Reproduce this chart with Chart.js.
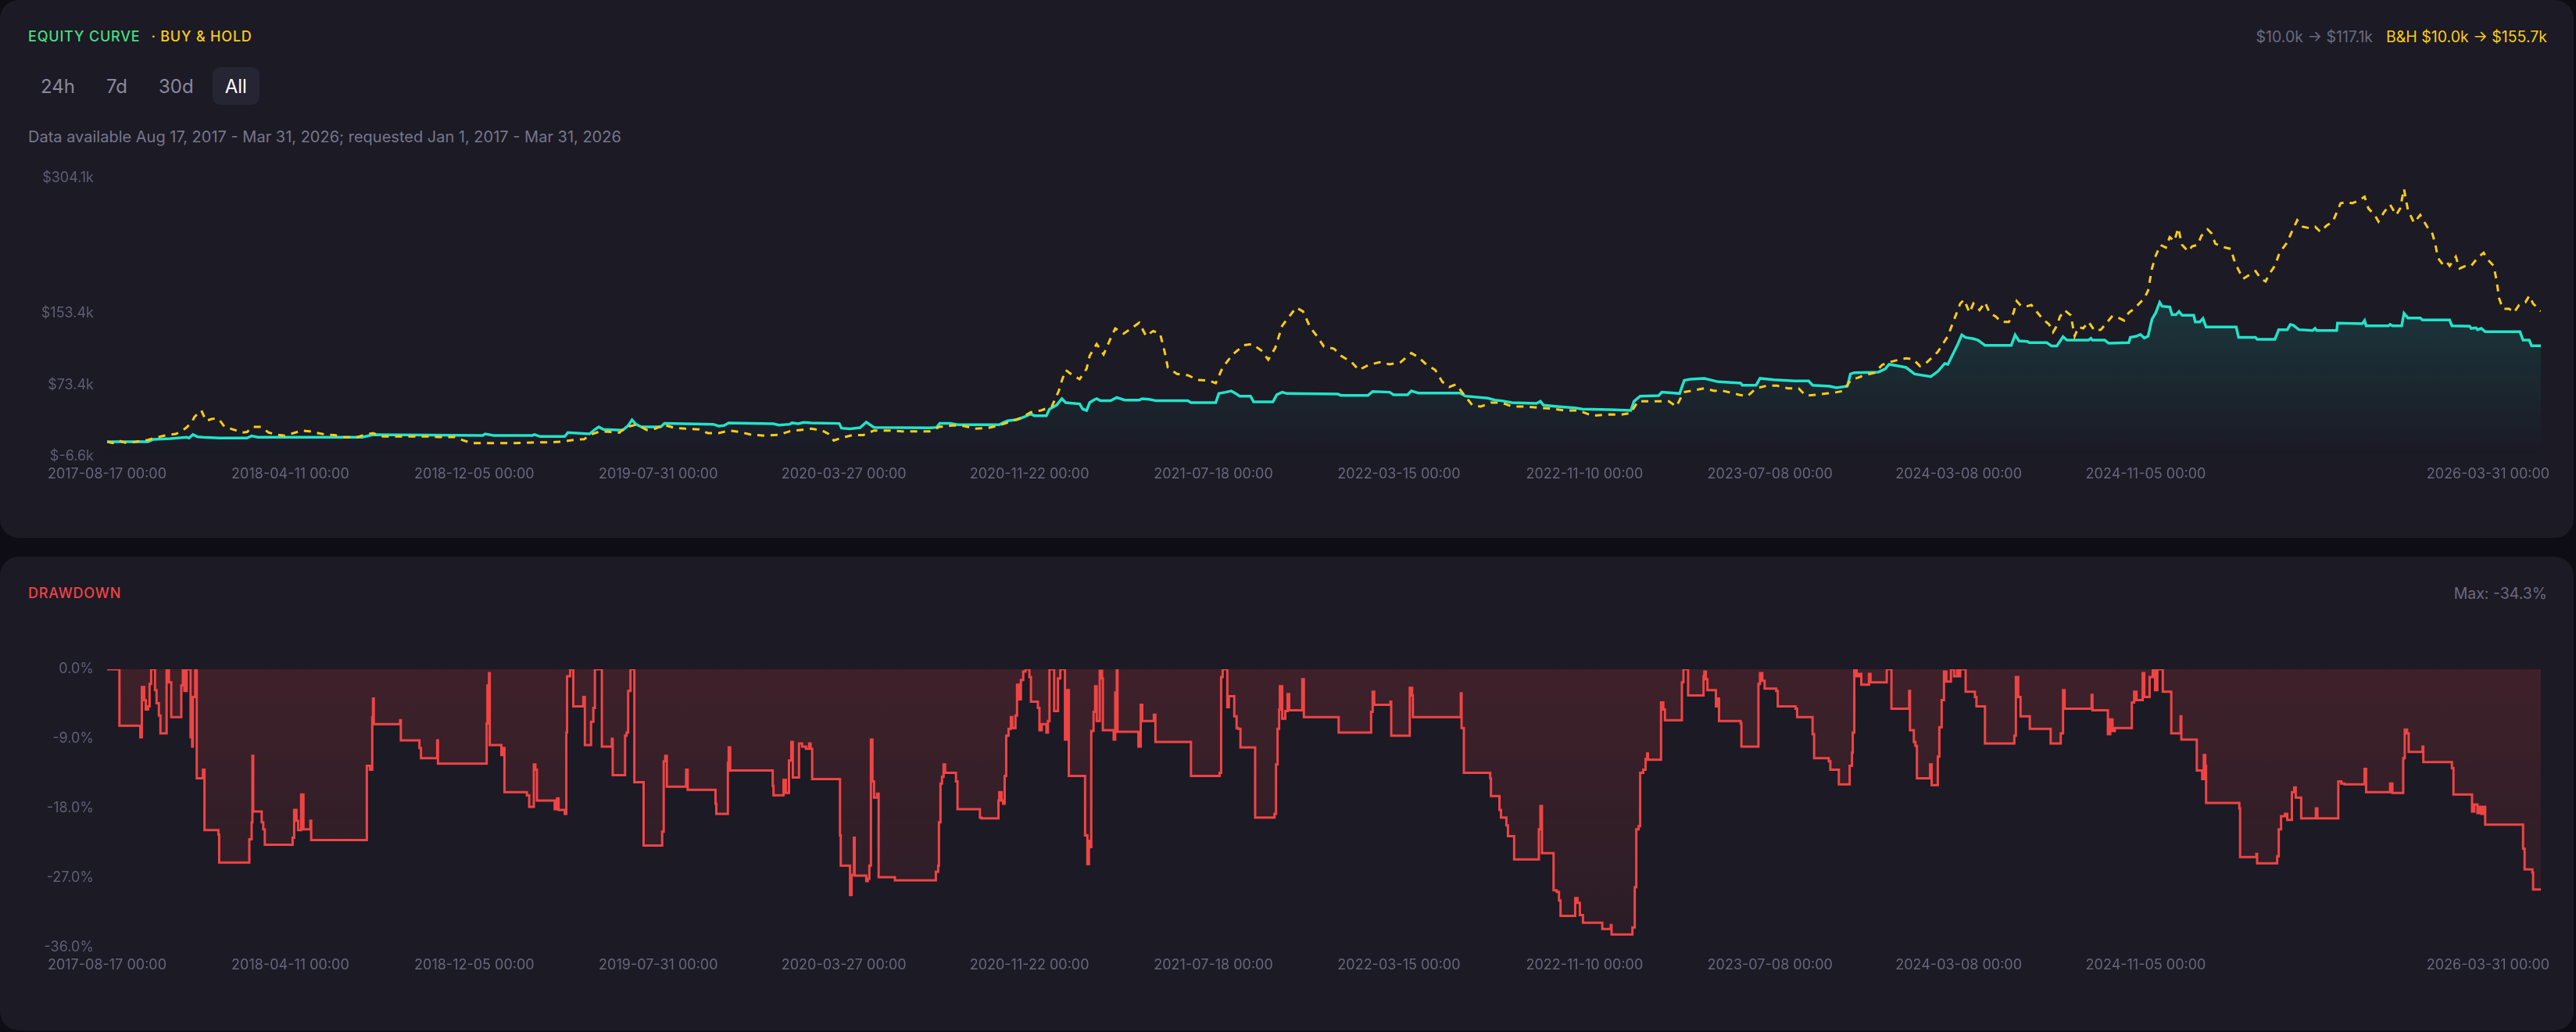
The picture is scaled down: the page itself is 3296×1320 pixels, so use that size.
<!DOCTYPE html>
<html><head><meta charset="utf-8">
<script src="https://cdn.jsdelivr.net/npm/chart.js@4.4.1/dist/chart.umd.min.js"></script>
<style>
html,body{margin:0;padding:0;background:#0e0d16;width:3296px;height:1320px;overflow:hidden;font-family:Inter,"Noto Sans",sans-serif;}
.card{position:absolute;left:0;width:3293px;background:#1b1a25;border-radius:24px;}
#c1{top:0;height:688px;}
#c2{top:712px;height:606px;}
.abs{position:absolute;white-space:nowrap;line-height:1;}
.title{font-size:18px;letter-spacing:0.8px;font-weight:500;top:38px;left:36px;}
.hdr{font-size:19.5px;top:38px;right:34px;}
#tabs{position:absolute;left:36px;top:86px;display:flex;gap:8px;}
.tab{height:48px;padding:0 16px;display:flex;align-items:center;font-size:24px;color:#8a899e;border-radius:9px;}
.tab.on{background:#262533;color:#ffffff;}
#info{font-size:20px;color:#77768b;left:36px;top:165px;}
canvas{position:absolute;left:36px;}
</style></head>
<body>
<div class="card" id="c1">
  <div class="abs title"><span style="color:#4ade80">EQUITY CURVE</span><span style="color:#facc15;margin-left:14px">· BUY &amp; HOLD</span></div>
  <div class="abs hdr"><span style="color:#6b6a80">$10.0k → $117.1k</span><span style="color:#facc15;margin-left:17px">B&amp;H $10.0k → $155.7k</span></div>
  <div id="tabs"><div class="tab">24h</div><div class="tab">7d</div><div class="tab">30d</div><div class="tab on">All</div></div>
  <div class="abs" id="info">Data available Aug 17, 2017 - Mar 31, 2026; requested Jan 1, 2017 - Mar 31, 2026</div>
</div>
<div class="card" id="c2">
  <div class="abs title" style="color:#ef4444">DRAWDOWN</div>
  <div class="abs hdr" style="color:#6b6a80">Max: -34.3%</div>
</div>
<canvas id="eq" width="3226" height="440" style="top:200px"></canvas>
<canvas id="dd" width="3226" height="440" style="top:828px"></canvas>
<script>
// ---- data (x = days since 2017-08-17) ----
const START_DATE = '2017-08-17';
const tickDates = ['2017-08-17','2018-04-11','2018-12-05','2019-07-31','2020-03-27','2020-11-22','2021-07-18','2022-03-15','2022-11-10','2023-07-08','2024-03-08','2024-11-05','2026-03-31'];
const equityTicks = [-6.6, 73.4, 153.4, 304.1];
const drawdownTicks = [0, -9, -18, -27, -36];

const eqDay = [0,53,60,82,103,106,111,117,124,145,181,187,195,252,330,344,486,489,500,550,553,560,592,596,624,631,636,642,667,674,679,684,691,716,721,784,791,798,804,862,869,883,886,894,901,911,947,950,961,974,982,992,1064,1073,1077,1091,1100,1154,1159,1165,1177,1186,1195,1199,1215,1219,1228,1235,1240,1258,1262,1267,1271,1276,1280,1285,1298,1306,1316,1335,1339,1348,1357,1398,1402,1434,1438,1447,1454,1461,1465,1479,1483,1508,1513,1520,1526,1592,1596,1631,1637,1659,1664,1682,1687,1696,1750,1757,1786,1795,1804,1817,1849,1854,1858,1876,1899,1908,1944,1971,1975,1983,2007,2011,2034,2040,2048,2066,2084,2113,2115,2133,2138,2156,2183,2201,2206,2228,2237,2251,2255,2260,2291,2300,2305,2327,2338,2359,2368,2377,2381,2389,2394,2399,2404,2414,2420,2429,2463,2468,2473,2484,2486,2509,2515,2522,2530,2535,2563,2566,2568,2584,2589,2615,2617,2625,2630,2635,2640,2645,2650,2655,2658,2668,2671,2676,2680,2684,2699,2701,2707,2711,2715,2754,2757,2779,2781,2804,2809,2820,2824,2828,2835,2853,2856,2858,2884,2885,2917,2920,2922,2951,2953,2956,2968,2971,2976,2992,2995,3030,3033,3056,3058,3064,3066,3071,3076,3121,3125,3133,3136,3148];
const eqVal = [10.0,10.0,12.6,13.5,15.0,14.1,17.9,15.5,15.0,14.1,14.1,16.4,15.0,15.0,15.0,17.9,17.0,18.7,17.0,17.0,17.9,15.8,15.8,20.2,18.7,23.7,26.6,23.7,22.8,28.0,34.4,29.5,26.6,26.6,30.4,29.5,27.5,28.0,31.0,30.1,28.6,29.5,31.0,30.1,31.5,31.0,30.4,25.1,24.3,25.7,31.8,26.0,25.4,26.0,30.4,30.4,28.9,28.9,31.2,33.3,34.7,37.6,41.1,39.1,39.1,46.4,50.7,58.0,53.6,52.2,46.4,44.9,53.6,56.5,58.0,55.7,55.7,59.4,56.5,56.5,58.0,57.4,55.7,55.7,53.6,53.6,63.8,65.3,66.7,63.2,60.9,60.9,54.5,54.5,62.4,65.3,63.8,63.2,61.8,61.8,66.1,65.3,62.4,62.4,66.7,64.4,64.4,60.9,58.6,56.5,55.7,53.6,52.7,55.1,50.7,49.3,47.8,46.4,45.8,44.9,55.1,60.9,61.5,65.3,63.8,78.4,79.8,80.7,76.9,75.4,73.1,73.1,80.7,79.2,77.8,77.8,73.1,71.9,70.2,71.9,85.6,87.1,87.7,91.4,96.4,92.9,85.6,82.7,88.5,97.3,96.4,110.3,119.1,129.3,126.4,124.9,123.4,117.6,117.6,129.3,122.6,122.0,120.5,120.5,117.0,117.0,127.2,123.4,123.4,125.5,123.4,123.4,119.9,120.5,126.4,127.8,129.8,125.8,127.8,146.7,154.0,165.6,161.3,160.4,151.7,151.7,155.4,151.1,151.1,143.8,143.8,147.6,138.0,138.0,126.4,126.4,124.3,124.3,135.1,135.1,140.9,140.0,135.1,134.2,136.5,134.2,134.2,142.4,141.8,145.3,139.4,139.4,140.9,139.4,139.4,153.4,148.2,148.2,145.9,145.9,139.4,138.9,136.5,137.1,135.1,136.5,132.8,132.8,123.4,123.4,117.1,117.1];

const bhDay = [0,7,14,25,32,43,53,64,74,82,89,96,103,110,113,117,122,128,135,142,145,152,160,167,174,181,188,199,209,220,230,241,252,262,273,284,294,308,323,333,344,355,372,394,415,429,450,461,472,486,507,528,550,571,589,603,617,628,638,652,663,670,677,684,691,698,709,720,734,748,766,777,791,805,819,833,851,869,883,897,911,925,933,940,950,964,978,992,1010,1028,1046,1064,1077,1095,1109,1122,1140,1154,1168,1181,1195,1208,1222,1231,1235,1240,1249,1258,1267,1271,1280,1289,1297,1304,1315,1326,1335,1344,1353,1362,1368,1372,1384,1398,1411,1425,1434,1443,1456,1470,1481,1493,1502,1511,1520,1529,1538,1547,1556,1565,1574,1587,1596,1610,1619,1632,1646,1659,1673,1687,1696,1705,1718,1727,1736,1745,1754,1766,1777,1790,1804,1817,1835,1854,1867,1885,1903,1921,1944,1957,1971,1980,1993,2007,2020,2030,2039,2052,2066,2079,2088,2102,2111,2122,2133,2147,2160,2174,2188,2197,2210,2224,2237,2246,2255,2264,2273,2287,2296,2305,2318,2327,2336,2345,2354,2368,2381,2388,2397,2402,2409,2414,2422,2429,2435,2443,2450,2460,2466,2470,2476,2484,2489,2497,2504,2512,2517,2522,2526,2532,2540,2545,2550,2556,2563,2571,2579,2586,2594,2602,2609,2615,2622,2630,2635,2640,2645,2650,2656,2663,2668,2674,2679,2684,2692,2697,2704,2709,2717,2722,2727,2734,2740,2747,2751,2756,2763,2771,2779,2786,2792,2797,2804,2810,2815,2820,2825,2833,2840,2848,2856,2863,2871,2879,2884,2889,2897,2904,2912,2920,2925,2933,2938,2945,2953,2961,2966,2971,2976,2984,2992,2997,3002,3007,3011,3015,3020,3025,3030,3038,3043,3051,3058,3066,3074,3079,3087,3091,3094,3099,3107,3113,3120,3128,3133,3138,3148];
const bhVal = [10.0,8.5,11.4,8.5,9.1,10.9,12.0,14.9,16.7,17.8,18.7,21.6,26.0,32.4,37.6,41.1,44.9,33.3,35.3,36.2,34.7,26.6,24.5,22.5,20.2,20.8,26.6,26.6,20.2,17.8,16.7,19.6,22.5,21.6,19.6,17.8,17.3,14.9,14.9,17.8,19.6,15.8,15.8,15.8,15.8,15.2,15.2,11.4,8.5,8.5,8.5,8.5,9.1,9.4,10.0,12.0,12.9,18.7,21.6,20.8,20.2,26.0,27.4,28.9,26.6,23.1,24.5,28.9,25.4,24.5,23.7,19.6,19.6,22.5,20.8,17.8,16.7,17.8,21.6,23.1,24.5,22.5,18.7,11.4,14.3,17.3,17.3,22.5,22.5,21.6,21.6,21.6,26.6,28.3,27.4,24.5,25.4,28.3,32.4,36.2,42.9,44.9,49.3,66.7,78.4,90.0,84.2,79.8,91.5,106.0,119.1,107.4,123.4,136.5,130.7,137.1,142.9,127.8,133.6,130.7,110.3,92.9,85.6,84.2,78.9,78.4,75.4,92.9,107.4,117.6,119.1,111.8,101.6,114.7,139.4,149.6,159.8,155.4,138.0,127.8,116.2,113.8,106.0,98.7,90.0,95.8,98.7,96.4,98.7,108.9,104.5,97.3,90.0,76.9,71.1,74.0,63.8,50.7,49.3,53.6,53.6,49.3,49.3,47.8,47.0,44.9,44.9,39.1,40.5,40.0,42.0,55.1,55.1,55.1,55.1,49.3,65.3,67.3,69.6,66.7,67.3,64.4,62.4,60.9,69.6,72.5,72.5,69.6,69.6,61.5,62.4,63.8,65.3,66.7,78.4,81.3,84.2,87.1,95.8,98.7,101.6,103.1,102.2,94.3,98.7,110.3,127.8,143.8,164.2,168.5,154.0,164.2,156.9,165.6,154.0,149.6,143.8,143.8,154.0,167.1,161.3,161.3,162.7,154.0,146.7,140.9,132.2,139.4,149.6,156.9,151.1,127.8,138.0,136.5,143.8,133.6,135.1,142.4,150.5,148.2,145.3,154.0,158.4,165.6,170.0,178.7,203.4,218.0,229.6,226.7,238.4,234.0,248.5,229.6,222.4,228.2,229.6,239.8,247.1,242.7,231.1,228.2,226.7,225.3,213.6,203.4,191.8,196.2,200.5,191.8,188.9,197.6,206.3,220.9,226.7,232.5,242.7,257.3,250.0,248.5,250.0,244.2,251.4,255.8,266.0,276.2,277.6,276.2,279.1,283.5,270.4,263.1,255.8,266.0,274.7,263.1,270.4,292.2,268.9,254.4,263.1,255.8,248.5,244.2,232.5,215.1,209.3,212.2,206.3,216.5,203.4,206.3,206.3,215.1,220.9,213.6,206.3,188.9,170.0,158.4,158.4,154.0,162.7,165.6,172.9,164.2,155.7];

const ddDay = [0,16,43,45,48,50,53,55,57,62,64,67,69,77,80,83,96,98,100,103,108,110,111,114,116,124,126,144,145,184,187,188,189,200,202,204,240,242,245,247,251,254,263,264,336,340,343,344,345,379,380,404,406,427,428,491,492,494,495,510,512,514,543,546,552,554,556,579,582,584,592,594,595,599,603,616,618,626,629,631,640,653,654,670,672,674,677,682,694,718,720,722,724,749,751,787,788,803,804,806,861,862,875,878,882,885,887,895,899,904,908,910,912,948,949,961,963,966,967,982,984,986,988,990,992,996,998,1019,1072,1075,1076,1078,1080,1082,1084,1098,1100,1129,1131,1153,1154,1157,1159,1161,1163,1166,1169,1171,1175,1177,1180,1182,1185,1188,1193,1195,1204,1206,1209,1215,1217,1219,1225,1230,1233,1239,1241,1244,1265,1268,1270,1272,1273,1276,1278,1280,1284,1287,1288,1302,1304,1306,1307,1334,1337,1339,1354,1356,1402,1439,1441,1443,1449,1451,1458,1461,1463,1466,1485,1510,1512,1514,1516,1517,1520,1524,1527,1529,1546,1548,1593,1635,1637,1639,1660,1661,1685,1688,1689,1751,1752,1755,1789,1790,1801,1803,1810,1812,1820,1852,1854,1856,1871,1875,1878,1880,1899,1902,1905,1909,1934,1945,1946,1973,1976,1978,1981,1983,1987,1990,1992,1993,2010,2013,2015,2037,2039,2045,2065,2066,2068,2070,2081,2083,2085,2113,2114,2136,2138,2141,2144,2159,2161,2184,2186,2206,2208,2227,2229,2240,2254,2257,2258,2260,2263,2266,2269,2279,2281,2302,2308,2331,2332,2337,2339,2341,2358,2360,2368,2370,2373,2376,2379,2385,2389,2393,2394,2397,2404,2416,2418,2429,2467,2469,2472,2475,2487,2514,2527,2530,2532,2567,2568,2588,2591,2594,2597,2619,2622,2625,2633,2635,2642,2646,2649,2652,2659,2670,2682,2683,2703,2710,2712,2714,2715,2758,2759,2780,2781,2807,2809,2812,2817,2820,2826,2829,2831,2838,2857,2859,2886,2890,2894,2920,2922,2953,2956,2970,2972,2975,2977,2995,2996,3033,3035,3059,3062,3066,3068,3071,3073,3076,3125,3127,3137,3138,3148];
const ddVal = [0,-7.3,-8.8,-2.3,-4.0,-5.2,-4.8,-1.9,0,-2.7,-4.4,-6.0,-8.3,0,-1.7,-6.2,-2.1,0,-2.8,0,-8.8,-10.0,-3.6,0,-14.1,-13.0,-20.8,-21.4,-25.0,-22.0,-19.8,-11.2,-18.4,-19.8,-20.7,-22.7,-21.8,-18.2,-19.6,-20.8,-16.2,-20.7,-19.6,-22.1,-12.5,-13.0,-6.2,-3.8,-7.1,-6.6,-9.2,-10.2,-11.5,-9.2,-12.2,-7.0,-2.1,-0.5,-9.8,-11.1,-10.2,-15.9,-16.3,-17.8,-12.3,-13.0,-17.0,-18.1,-16.7,-18.2,-18.7,-8.2,-0.9,0,-4.8,-3.6,-9.8,-6.8,-5.0,0,-10.0,-9.0,-13.7,-8.6,-8.2,-2.8,0,-14.6,-22.8,-21.0,-11.9,-11.2,-15.2,-13.0,-15.6,-17.4,-18.7,-12.1,-10.1,-13.1,-15.1,-16.3,-14.3,-16.0,-11.8,-9.4,-14.0,-9.6,-10.0,-10.3,-9.6,-10.3,-14.2,-21.5,-25.4,-29.2,-26.6,-21.8,-26.7,-27.4,-27.1,-25.4,-9.1,-14.5,-16.6,-16.1,-26.9,-27.3,-26.2,-25.4,-19.8,-14.8,-13.9,-12.3,-13.4,-14.5,-18.1,-19.2,-19.3,-17.0,-15.9,-17.0,-17.4,-13.8,-8.6,-7.7,-6.2,-7.6,-6.0,-2.0,-3.9,-1.4,-0.3,0,-1.0,-4.2,-5.0,-7.9,-7.1,-8.2,-6.7,0,-5.4,-1.2,0,-9.1,-2.7,-13.8,-21.5,-25.2,-22.2,-23.0,-8.0,-5.5,-2.2,-6.7,-0.2,-1.2,-7.9,-9.1,-3.0,0,-8.1,-10.0,-4.6,-6.7,-5.9,-9.4,-13.8,-13.4,-1.0,0,-4.9,-3.5,-6.1,-7.6,-7.7,-10.1,-19.2,-18.7,-12.3,-7.7,-5.2,-2.2,-6.4,-5.4,-3.2,-5.3,-1.3,-6.2,-8.2,-5.5,-2.9,-4.6,-4.2,-8.6,-2.4,-3.4,-6.2,-3.1,-7.6,-13.4,-14.1,-16.4,-18.2,-19.2,-20.2,-21.6,-24.6,-20.7,-17.7,-23.8,-28.6,-28.8,-29.9,-31.9,-29.6,-30.2,-31.8,-32.8,-33.6,-33.1,-34.3,-33.4,-28.2,-20.7,-20.3,-13.4,-13.0,-11.6,-10.9,-11.7,-4.3,-5.2,-6.6,-1.7,0,-3.4,-0.9,-0.3,-1.3,-2.7,-4.8,-3.8,-6.7,-7.0,-10.0,-1.9,-0.5,-1.5,-2.5,-2.8,-4.8,-5.1,-6.2,-8.4,-11.5,-11.9,-13.0,-14.9,-12.5,-10.8,-8.2,0,-0.9,-0.6,-2.0,-0.6,-1.7,0,-5.1,-2.8,-7.9,-9.4,-9.9,-14.1,-12.3,-15.0,-11.3,-7.5,-4.0,-0.3,-1.6,0,-0.9,0,-0.9,0,-2.9,-3.6,-4.8,-9.6,-8.6,-1.0,-3.6,-6.1,-7.7,-9.6,-8.3,-2.7,-5.1,-3.3,-5.3,-8.4,-6.5,-8.0,-7.6,-4.3,-2.9,-4.0,-0.5,-3.6,-1.0,0,-2.7,0,-2.9,-8.3,-6.1,-9.1,-13.1,-14.2,-11.1,-12.5,-17.3,-18.0,-24.3,-23.9,-25.1,-24.2,-20.7,-19.0,-18.7,-19.5,-15.9,-15.3,-16.6,-19.3,-18.0,-19.3,-14.5,-14.8,-14.9,-12.9,-15.9,-14.8,-16.0,-11.5,-7.8,-8.3,-10.7,-10.0,-12.0,-12.8,-16.2,-18.4,-17.5,-18.6,-17.8,-18.7,-17.8,-20.1,-23.2,-25.9,-26.3,-28.5,-28.5];

// ---- helpers ----
const DAY = 86400000;
const startMs = Date.parse(START_DATE + 'T00:00:00Z');
const tickDays = tickDates.map(d => Math.round((Date.parse(d + 'T00:00:00Z') - startMs) / DAY));
const lastDay = tickDays[tickDays.length - 1];
const fmtDay = d => new Date(startMs + d * DAY).toISOString().slice(0, 10) + ' 00:00';
const pts = (xs, ys) => xs.map((x, i) => ({x, y: ys[i]}));

const FONT = {family: 'Inter', size: 18};
const xScale = () => ({
  type: 'linear', min: 0, max: lastDay,
  grid: {display: false, drawTicks: false}, border: {display: false},
  afterBuildTicks: s => { s.ticks = tickDays.map(v => ({value: v})); },
  afterFit: s => { s.height = 56; s.paddingLeft = 0; s.paddingRight = 0; },
  ticks: {autoSkip: false, maxRotation: 0, minRotation: 0, padding: 12, color: '#67667d', font: FONT,
    callback: (v, i, arr) => fmtDay(v) + (i === arr.length - 1 ? '\u2003'.repeat(7) + '\u2002' : '')}
});
const yScale = (min, max, ticks, fmt) => ({
  min, max,
  grid: {display: false, drawTicks: false}, border: {display: false},
  afterBuildTicks: s => { s.ticks = ticks.map(v => ({value: v})); },
  afterFit: s => { s.width = 101; },
  ticks: {padding: 17, color: '#5f5e74', font: FONT, callback: fmt}
});
const common = {
  responsive: false, animation: false, events: [],
  layout: {padding: {top: 28, right: 11, left: 0, bottom: 0}},
  plugins: {legend: {display: false}, tooltip: {enabled: false}}
};

new Chart(document.getElementById('eq'), {
  type: 'line',
  data: {datasets: [
    {label: 'Buy & Hold', data: pts(bhDay, bhVal), borderColor: '#facc15', borderWidth: 3, borderDash: [9, 8],
     pointRadius: 0, fill: false, tension: 0, order: 0},
    {label: 'Equity', data: pts(eqDay, eqVal), borderColor: '#22e3c9', borderWidth: 3.5, pointRadius: 0, tension: 0,
     fill: 'start', order: 1,
     backgroundColor: ctx => {
       const a = ctx.chart.chartArea; if (!a) return 'transparent';
       const g = ctx.chart.ctx.createLinearGradient(0, a.top, 0, a.bottom);
       g.addColorStop(0, 'rgba(34,227,201,0.26)'); g.addColorStop(1, 'rgba(34,227,201,0)');
       return g;
     }}
  ]},
  options: Object.assign({}, common, {
    scales: {x: xScale(), y: yScale(-6.6, 304.1, equityTicks, v => '$' + v.toFixed(1) + 'k')}
  })
});

new Chart(document.getElementById('dd'), {
  type: 'line',
  data: {datasets: [
    {label: 'Drawdown', data: pts(ddDay, ddVal), borderColor: '#ef4444', borderWidth: 3, pointRadius: 0,
     stepped: true, fill: 'origin',
     backgroundColor: ctx => {
       const a = ctx.chart.chartArea; if (!a) return 'transparent';
       const g = ctx.chart.ctx.createLinearGradient(0, a.top, 0, a.bottom);
       g.addColorStop(0, 'rgba(239,68,68,0.17)'); g.addColorStop(1, 'rgba(239,68,68,0.07)');
       return g;
     }}
  ]},
  options: Object.assign({}, common, {
    scales: {x: xScale(), y: yScale(-36, 0, drawdownTicks, v => v.toFixed(1) + '%')}
  })
});
</script>
</body></html>
